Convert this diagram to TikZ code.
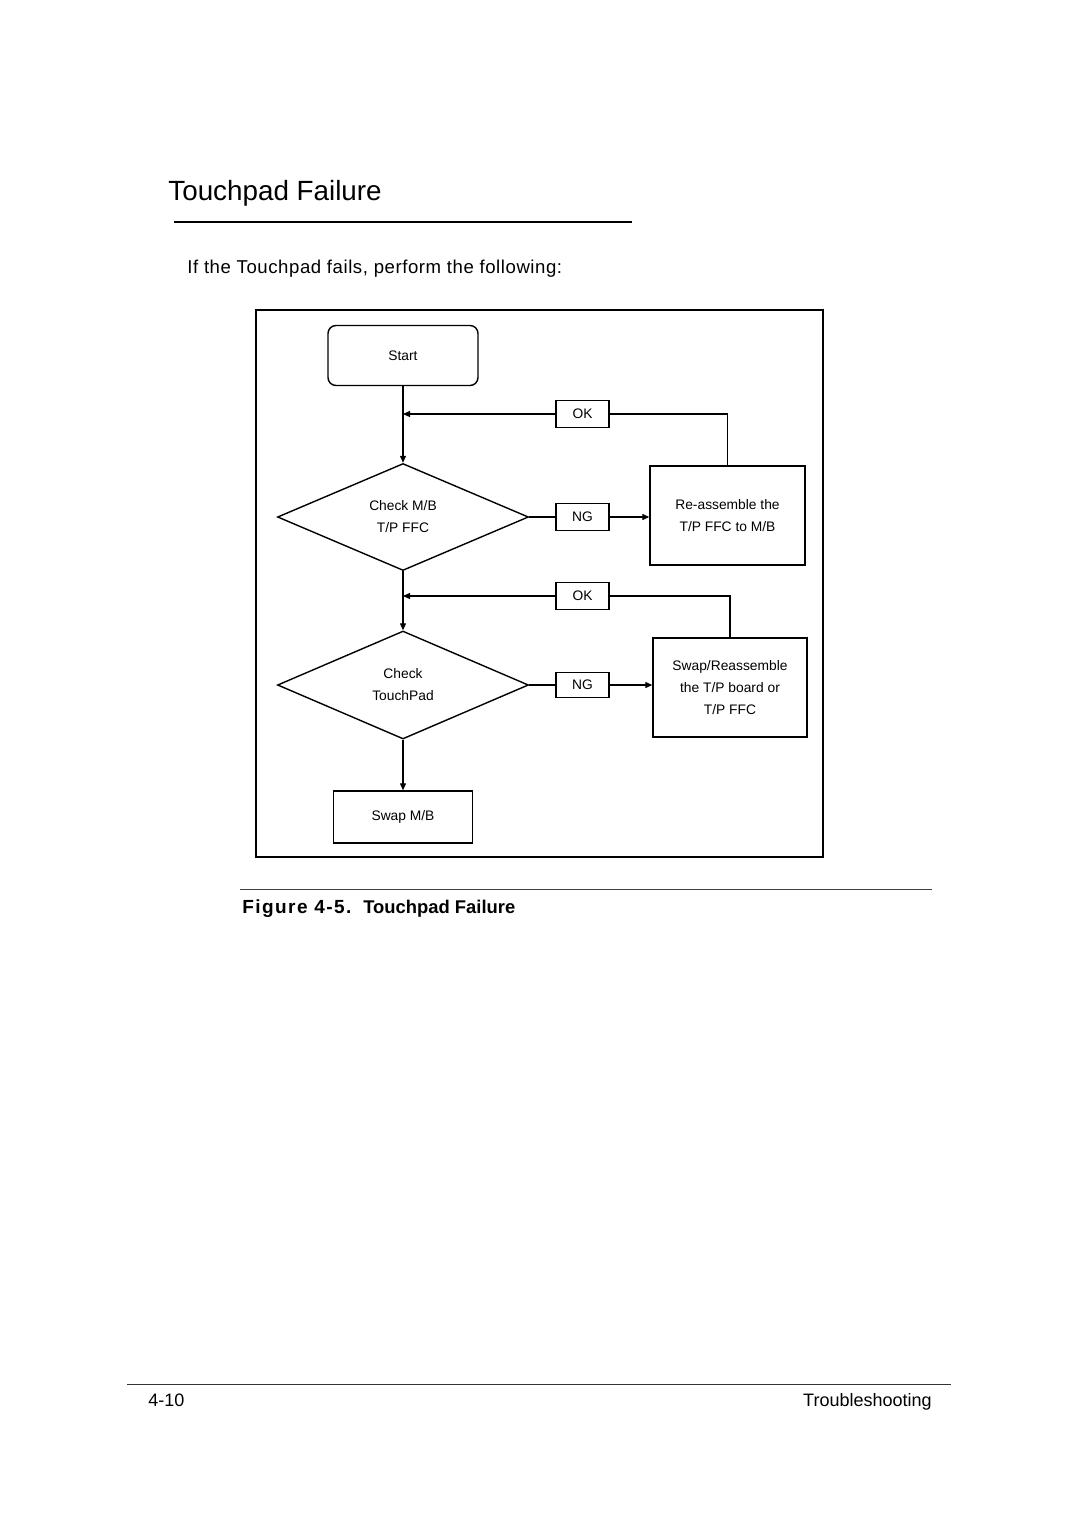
\documentclass[tikz,border=0pt]{standalone}
\usepackage{fontspec}
\setmainfont{Liberation Sans}
\newfontfamily\spacedfont[LetterSpace=3]{Liberation Sans}
\newfontfamily\capfont[LetterSpace=7.5]{Liberation Sans}
\usetikzlibrary{shapes.geometric,arrows.meta}
\begin{document}
\begin{tikzpicture}[x=0.5pt,y=-0.5pt,
  txt/.style={inner sep=0pt, anchor=base west},
  box/.style={draw, line width=0.7pt, inner sep=0pt, align=center, font=\fontsize{6.9}{11}\selectfont},
  tag/.style={box, minimum width=26.5pt, minimum height=13.5pt},
  decision/.style={box, diamond, aspect=2.37, minimum width=125.5pt, minimum height=53.5pt},
  conn/.style={line width=0.6pt},
  arr/.style={conn, -{Triangle[length=3.5pt,width=3pt]}}]
\fill[white] (0,0) rectangle (1080,1527);
\useasboundingbox (0,0) rectangle (1080,1527);

% header
\node[txt, font=\fontsize{13.9}{16}\selectfont] (title) at (168,200) {Touchpad Failure};
\draw[line width=1pt] (174,221.5) -- (632,221.5);
\node[txt, font=\fontsize{9.3}{11}\spacedfont] (intro) at (187,273) {If the Touchpad fails, perform the following:};

% frame
\draw[line width=1.25pt] (256,310) rectangle (823,857);

% nodes
\node[box, rounded corners=4pt, minimum width=75pt, minimum height=30pt] (start) at (403,355.5) {Start};
\node[tag] (ok1) at (582.5,414) {OK};
\node[decision] (d1) at (403,517) {Check M/B\\T/P FFC};
\node[tag] (ng1) at (582.5,517) {NG};
\node[box, minimum width=77.5pt, minimum height=49.5pt] (re) at (727.5,515.5) {Re-assemble the\\T/P FFC to M/B};
\node[tag] (ok2) at (582.5,596) {OK};
\node[decision, minimum height=54pt] (d2) at (403,685) {Check\\TouchPad};
\node[tag, minimum height=12.5pt] (ng2) at (582.5,685) {NG};
\node[box, minimum width=77pt, minimum height=49.5pt] (sw) at (730,687.5) {Swap/Reassemble\\the T/P board or\\T/P FFC};
\node[box, minimum width=69.5pt, minimum height=26pt] (swap) at (403,817) {Swap M/B};

\coordinate (j1) at (403,414);
\coordinate (j2) at (403,596);

% connectors
\draw[arr] (start.south) -- (d1.north);
\draw[arr] (ok1.west) -- (j1);
\draw[conn] (ok1.east) -| (re.north);
\draw[conn] (d1.east) -- (ng1.west);
\draw[arr] (ng1.east) -- (ng1.east -| re.west);
\draw[arr] (d1.south) -- (d2.north);
\draw[arr] (ok2.west) -- (j2);
\draw[conn] (ok2.east) -| (sw.north);
\draw[conn] (d2.east) -- (ng2.west);
\draw[arr] (ng2.east) -- (ng2.east -| sw.west);
\draw[arr] (d2.south) -- (swap.north);

% caption
\draw[line width=0.5pt, black!75] (240,889) -- (932,889);
\node[txt, font=\fontsize{9.5}{11}\bfseries] (cap) at (242,913) {{\capfont Figure 4-5.}\hspace{6pt}{\fontsize{9.2}{11}\selectfont Touchpad Failure}};

% footer
\draw[line width=0.5pt, black!80] (127,1384) -- (951,1384);
\node[txt, font=\fontsize{9}{11}\selectfont] (pg) at (148,1406) {4-10};
\node[inner sep=0pt, anchor=base east, font=\fontsize{9}{11}\selectfont] (sec) at (932,1406) {Troubleshooting};
\end{tikzpicture}
\end{document}
